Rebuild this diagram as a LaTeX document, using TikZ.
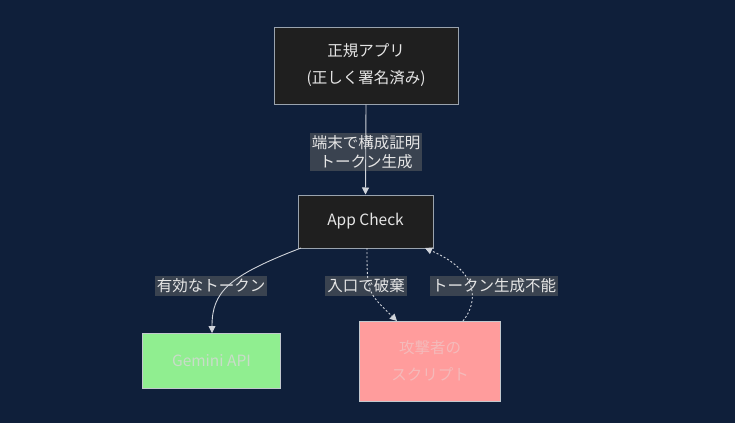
\documentclass[tikz,border=0pt]{standalone}
\usepackage{fontspec}
\setmainfont{Noto Sans CJK JP}
\usetikzlibrary{arrows.meta}
\definecolor{bgc}{HTML}{0F1F3A}
\definecolor{boxc}{HTML}{1F1F1F}
\definecolor{bordc}{HTML}{9AA3AE}
\definecolor{edgec}{HTML}{D0D4DA}
\definecolor{lblbg}{HTML}{3A4350}
\definecolor{txtc}{HTML}{E6E6E6}
\definecolor{greenc}{HTML}{90EE90}
\definecolor{redc}{HTML}{FF9C9C}
\definecolor{gtxt}{HTML}{C9DCC9}
\definecolor{rtxt}{HTML}{F4BABA}
\tikzset{
  darkbox/.style={draw=bordc, line width=1pt, fill=boxc, text=txtc, align=center, font=\fontsize{15.5}{27}\selectfont, inner sep=0pt},
  greenbox/.style={draw=bordc!60, line width=0.8pt, fill=greenc, text=gtxt, align=center, font=\fontsize{15.5}{23}\selectfont, inner sep=0pt},
  redbox/.style={draw=bordc!60, line width=0.8pt, fill=redc, text=rtxt, align=center, font=\fontsize{15.5}{27}\selectfont, inner sep=0pt},
  lbl/.style={fill=lblbg, text=txtc, align=center, font=\fontsize{15.5}{19}\selectfont, inner xsep=2pt, inner ysep=2.5pt},
  edge/.style={draw=edgec, line width=0.9pt, -{Triangle[width=7pt,length=7pt]}},
  dotedge/.style={edge, dash pattern=on 2pt off 2pt}
}
\begin{document}
\begin{tikzpicture}[x=1pt,y=-1pt]
\fill[bgc] (0,0) rectangle (735,423);
\useasboundingbox (0,0) rectangle (735,423);

\node[darkbox, minimum width=184pt, minimum height=77pt] (top) at (366,65.5) {正規アプリ\\(正しく署名済み)};
\node[darkbox, minimum width=135pt, minimum height=53pt] (ac) at (365.5,221.5) {App Check};
\node[greenbox, minimum width=138pt, minimum height=55pt] (gem) at (211.5,360.5) {Gemini API};
\node[redbox, minimum width=141pt, minimum height=80pt] (scr) at (430,361) {攻撃者の\\スクリプト};

\node[lbl] (l1) at (366,152) {端末で構成証明\\トークン生成};
\node[lbl] (l2) at (211,286) {有効なトークン};
\node[lbl] (l3) at (366,286) {入口で破棄};
\node[lbl] (l4) at (494,286) {トークン生成不能};

\coordinate (acgem) at (301,248);
\coordinate (acscr) at (367,248);
\coordinate (acin) at (425,248);
\coordinate (gemin) at (212,333);
\coordinate (scrin) at (397,321);
\coordinate (scrout) at (463,321);

\draw[edge] (top.south) -- (ac.north);
\draw[edge] (acgem) .. controls (228,276) and (212,292) .. (gemin);
\draw[dotedge] (acscr) .. controls (367,292) .. (scrin);
\draw[dotedge] (scrout) .. controls (478,302) and (480,272) .. (acin);
\end{tikzpicture}
\end{document}
